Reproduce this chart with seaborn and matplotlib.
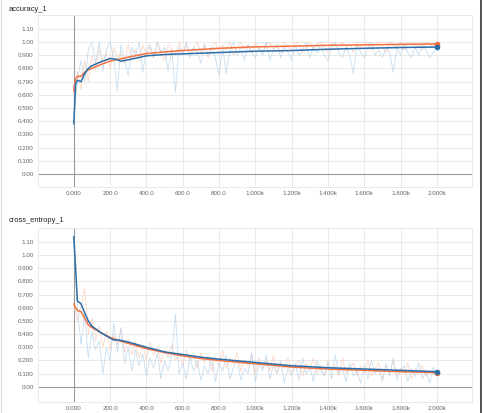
import numpy as np
import pandas as pd
import matplotlib
matplotlib.use('Agg')
import matplotlib.pyplot as plt
import seaborn as sns
from matplotlib.lines import Line2D

# Data
steps = list(range(0, 2001, 20))

acc_raw_blue = [0.38, 0.72, 0.86, 0.70, 0.94, 1.00, 0.84, 1.00, 0.78, 0.94,
                1.00, 0.88, 0.63, 0.98, 0.86, 0.75, 0.96, 0.90, 1.00, 0.77,
                0.94, 0.98, 0.88, 1.00, 0.92, 0.96, 0.78, 0.94, 0.62, 0.96,
                0.90, 1.00, 0.88, 0.96, 0.92, 0.84, 0.98, 0.90, 0.96, 0.88,
                0.75, 0.96, 0.76, 0.94, 1.00, 0.90, 0.96, 0.86, 0.98, 0.92,
                0.88, 0.96, 0.90, 1.00, 0.86, 0.94, 0.98, 0.88, 0.96, 0.92,
                0.86, 0.98, 0.90, 0.94, 1.00, 0.88, 0.96, 0.92, 0.98, 0.90,
                0.86, 0.96, 1.00, 0.92, 0.88, 0.96, 0.90, 0.76, 0.98, 0.92,
                0.88, 0.96, 1.00, 0.90, 0.94, 0.88, 0.96, 0.92, 0.77, 0.96,
                0.90, 0.98, 0.92, 0.88, 0.96, 0.90, 0.98, 0.94, 0.88, 0.92,
                0.96]
acc_raw_orange = [0.62, 0.78, 0.64, 0.86, 0.70, 0.90, 0.80, 0.94, 0.86, 0.92,
                  0.80, 0.96, 0.88, 0.92, 0.84, 0.98, 0.88, 0.94, 0.86, 0.98,
                  0.90, 0.96, 0.88, 1.00, 0.92, 0.86, 0.98, 0.94, 0.90, 1.00,
                  0.92, 0.98, 0.90, 0.96, 1.00, 0.92, 0.98, 0.88, 0.96, 1.00,
                  0.92, 0.98, 0.94, 1.00, 0.90, 0.96, 1.00, 0.94, 0.98, 0.92,
                  1.00, 0.96, 0.92, 0.98, 1.00, 0.94, 0.98, 0.92, 1.00, 0.96,
                  0.94, 1.00, 0.98, 0.92, 0.96, 1.00, 0.94, 0.98, 1.00, 0.96,
                  0.92, 1.00, 0.98, 0.94, 1.00, 0.96, 0.98, 0.92, 1.00, 0.96,
                  0.98, 1.00, 0.94, 0.98, 1.00, 0.96, 0.92, 1.00, 0.98, 0.96,
                  1.00, 0.94, 0.98, 1.00, 0.96, 0.98, 0.94, 1.00, 0.98, 0.96,
                  1.00]

acc_smooth_steps = [0, 10, 20, 40, 60, 80, 100, 150, 200, 230, 260, 300, 400,
                    500, 600, 800, 1000, 1200, 1400, 1600, 1800, 2000]
acc_smooth_blue = [0.38, 0.68, 0.71, 0.70, 0.76, 0.80, 0.82, 0.85, 0.875, 0.87,
                   0.855, 0.865, 0.895, 0.905, 0.91, 0.92, 0.93, 0.935, 0.945,
                   0.952, 0.958, 0.962]
acc_smooth_orange = [0.63, 0.72, 0.74, 0.74, 0.77, 0.79, 0.80, 0.83, 0.855, 0.865,
                     0.872, 0.885, 0.912, 0.925, 0.935, 0.952, 0.963, 0.968,
                     0.975, 0.978, 0.982, 0.985]

ce_raw_blue = [1.14, 0.60, 0.32, 0.55, 0.22, 0.42, 0.28, 0.35, 0.10, 0.30,
               0.20, 0.48, 0.26, 0.45, 0.18, 0.30, 0.12, 0.28, 0.16, 0.25,
               0.08, 0.22, 0.14, 0.26, 0.06, 0.20, 0.12, 0.24, 0.55, 0.10,
               0.18, 0.06, 0.22, 0.12, 0.20, 0.05, 0.16, 0.10, 0.22, 0.04,
               0.18, 0.12, 0.24, 0.06, 0.15, 0.20, 0.05, 0.14, 0.10, 0.26,
               0.04, 0.18, 0.12, 0.24, 0.06, 0.16, 0.10, 0.20, 0.03, 0.14,
               0.08, 0.18, 0.05, 0.22, 0.10, 0.16, 0.04, 0.20, 0.12, 0.08,
               0.18, 0.06, 0.24, 0.10, 0.14, 0.04, 0.18, 0.08, 0.12, 0.03,
               0.16, 0.06, 0.20, 0.10, 0.14, 0.04, 0.18, 0.08, 0.22, 0.05,
               0.12, 0.16, 0.04, 0.14, 0.08, 0.18, 0.06, 0.12, 0.03, 0.15,
               0.10]
ce_raw_orange = [0.63, 0.50, 0.62, 0.75, 0.40, 0.52, 0.35, 0.46, 0.30, 0.42,
                 0.28, 0.40, 0.32, 0.44, 0.26, 0.36, 0.24, 0.34, 0.22, 0.32,
                 0.20, 0.34, 0.24, 0.30, 0.18, 0.28, 0.22, 0.32, 0.20, 0.26,
                 0.16, 0.28, 0.20, 0.24, 0.14, 0.26, 0.18, 0.24, 0.12, 0.22,
                 0.16, 0.28, 0.14, 0.22, 0.18, 0.26, 0.12, 0.20, 0.16, 0.24,
                 0.10, 0.22, 0.14, 0.20, 0.12, 0.24, 0.10, 0.18, 0.14, 0.22,
                 0.10, 0.16, 0.20, 0.08, 0.18, 0.12, 0.22, 0.10, 0.16, 0.08,
                 0.20, 0.12, 0.16, 0.08, 0.22, 0.10, 0.14, 0.18, 0.08, 0.16,
                 0.10, 0.20, 0.08, 0.14, 0.18, 0.06, 0.16, 0.10, 0.20, 0.08,
                 0.14, 0.10, 0.18, 0.06, 0.14, 0.10, 0.16, 0.08, 0.12, 0.10,
                 0.12]

ce_smooth_steps = [0, 10, 20, 40, 60, 80, 100, 150, 200, 220, 250, 300, 400,
                   500, 600, 700, 800, 1000, 1200, 1400, 1600, 1800, 2000]
ce_smooth_blue = [1.14, 0.90, 0.65, 0.63, 0.56, 0.50, 0.46, 0.41, 0.37, 0.355,
                  0.355, 0.34, 0.30, 0.265, 0.245, 0.225, 0.21, 0.185, 0.16,
                  0.145, 0.135, 0.125, 0.115]
ce_smooth_orange = [0.63, 0.60, 0.58, 0.57, 0.52, 0.47, 0.45, 0.41, 0.375, 0.365,
                    0.35, 0.33, 0.29, 0.26, 0.235, 0.215, 0.20, 0.175, 0.15,
                    0.135, 0.125, 0.115, 0.108]

x_ticks = [0, 200, 400, 600, 800, 1000, 1200, 1400, 1600, 1800, 2000]
x_labels = ['0.000', '200.0', '400.0', '600.0', '800.0', '1.000k', '1.200k',
            '1.400k', '1.600k', '1.800k', '2.000k']
y_ticks = [0.0, 0.1, 0.2, 0.3, 0.4, 0.5, 0.6, 0.7, 0.8, 0.9, 1.0, 1.1]
y_labels = ['0.00', '0.100', '0.200', '0.300', '0.400', '0.500', '0.600',
            '0.700', '0.800', '0.900', '1.00', '1.10']

blue = '#2b6ea8'
orange = '#f4703f'
light_blue = '#b9d5ea'
light_orange = '#fccdbb'

sns.set_style('white')
plt.rcParams['font.family'] = ['Liberation Sans', 'DejaVu Sans']

fig = plt.figure(figsize=(4.85, 4.13), dpi=100)
ax1 = fig.add_axes([0.078, 0.547, 0.895, 0.417])
ax2 = fig.add_axes([0.078, 0.027, 0.895, 0.421])


def draw(ax, raw_b, raw_o, s_steps, s_b, s_o, ylo):
    sns.lineplot(x=steps, y=raw_o, ax=ax, color=light_orange, lw=0.6, alpha=0.8)
    sns.lineplot(x=steps, y=raw_b, ax=ax, color=light_blue, lw=0.6, alpha=0.8)
    sns.lineplot(x=s_steps, y=s_o, ax=ax, color=orange, lw=1.1)
    sns.lineplot(x=s_steps, y=s_b, ax=ax, color=blue, lw=1.1)
    ax.plot(s_steps[-1], s_o[-1], 'o', color=orange, ms=3)
    ax.plot(s_steps[-1], s_b[-1], 'o', color=blue, ms=3)
    ax.set_xlim(-198, 2193)
    ax.set_ylim(ylo, 1.205)
    ax.set_xticks(x_ticks)
    ax.set_xticklabels(x_labels)
    ax.set_yticks(y_ticks)
    ax.set_yticklabels(y_labels)
    ax.grid(True, color='#e6e6e6', lw=0.6)
    ax.axhline(0, color='#9a9a9a', lw=0.8, zorder=1)
    ax.axvline(0, color='#9a9a9a', lw=0.8, zorder=1)
    ax.tick_params(axis='both', length=0, labelsize=4.5, labelcolor='#666666', pad=3)
    for sp in ax.spines.values():
        sp.set_color('#e6e6e6')
        sp.set_linewidth(0.6)
    ax.set_xlabel('')
    ax.set_ylabel('')


draw(ax1, acc_raw_blue, acc_raw_orange, acc_smooth_steps, acc_smooth_blue,
     acc_smooth_orange, -0.098)
draw(ax2, ce_raw_blue, ce_raw_orange, ce_smooth_steps, ce_smooth_blue,
     ce_smooth_orange, -0.114)

fig.text(0.017, 0.978, 'accuracy_1', fontsize=5.4, color='#222222', va='center')
fig.text(0.017, 0.465, 'cross_entropy_1', fontsize=5.4, color='#222222', va='center')

# screenshot frame
fig.add_artist(Line2D([0.991, 0.991], [0, 1], color='#333333', lw=1.2))
fig.add_artist(Line2D([0.002, 0.002], [0, 1], color='#dddddd', lw=0.8))

fig.savefig('out.png', dpi=100)
